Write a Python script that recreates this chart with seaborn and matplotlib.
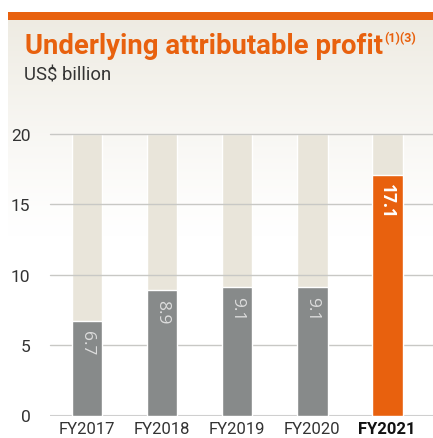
import numpy as np
import matplotlib.pyplot as plt
import seaborn as sns

years = ["FY2017", "FY2018", "FY2019", "FY2020", "FY2021"]
profit = [6.7, 8.9, 9.1, 9.1, 17.1]
labels = ["6.7", "8.9", "9.1", "9.1", "17.1"]
scale_max = [20, 20, 20, 20, 20]

ORANGE = "#e8610e"
GREY = "#878a8a"
BEIGE = "#e9e5da"

sns.set_theme(style="white")
plt.rcParams["font.family"] = ["Roboto", "DejaVu Sans"]

W, H = 433, 439
fig = plt.figure(figsize=(W / 100, H / 100), dpi=100)

# cream gradient backdrop + orange band
bg = fig.add_axes([0, 0, 1, 1], zorder=-5)
bg.set_xlim(0, W)
bg.set_ylim(H, 0)
bg.axis("off")
grad = np.linspace(0, 1, 256).reshape(-1, 1)
cream = np.array([0.937, 0.925, 0.89])
img = np.ones((256, 1, 4))
img[..., :3] = cream
img[..., 3] = (1 - grad) ** 1.2
bg.imshow(img, extent=[8, W, 240, 20], aspect="auto", interpolation="bilinear")
bg.add_patch(plt.Rectangle((8, 13), W - 8, 8, color=ORANGE, lw=0))

title = bg.text(25, 47, "Underlying attributable profit", color=ORANGE, fontsize=19.8,
                fontweight="bold", va="center", ha="left")
fig.canvas.draw()
bb = title.get_window_extent()
x_end = bb.x1 / fig.dpi * 100
bg.text(x_end + 1, 39, "(1)(3)", color=ORANGE, fontsize=9, fontweight="bold",
        va="center", ha="left")
bg.text(24, 75, "US$ billion", color="#333333", fontsize=13.3, va="center", ha="left")

ax = fig.add_axes([50 / W, (H - 416.5) / H, (W - 50) / W, (416.5 - 135) / H])
ax.patch.set_alpha(0)

sns.barplot(x=years, y=scale_max, color=BEIGE, width=0.41, ax=ax,
            saturation=1, zorder=1)
for v in [5, 10, 15, 20]:
    ax.axhline(v, color="#c8c8c5", lw=1, zorder=2, clip_on=False)
ax.axhline(0, color="#cfcfcf", lw=1.5, zorder=2)

colors = [GREY, GREY, GREY, GREY, ORANGE]
sns.barplot(x=years, y=profit, hue=years, palette=colors, width=0.41, ax=ax,
            saturation=1, legend=False, zorder=3)

for i, (v, lab) in enumerate(zip(profit, labels)):
    last = i == len(profit) - 1
    ax.text(i, v - 0.6, lab, rotation=270, ha="center", va="top",
            color="white" if last else "#dcdcdc", family="Open Sans",
            fontsize=12.5, fontweight="bold" if last else "normal", zorder=4)

ax.set_xlim(-0.493, 4.61)
ax.set_ylim(0, 20)
ax.set_yticks([0, 5, 10, 15, 20])
ax.set_xlabel("")
ax.set_ylabel("")
sns.despine(ax=ax, left=True, bottom=True)
ax.tick_params(axis="y", length=0, pad=14, labelsize=12.5, labelcolor="#333333")
ax.tick_params(axis="x", length=0, pad=4, labelsize=12, labelcolor="#333333")
for t in ax.get_xticklabels():
    if t.get_text() == "FY2021":
        t.set_fontweight("bold")
        t.set_color("#111111")

fig.savefig("out.png", dpi=100)
